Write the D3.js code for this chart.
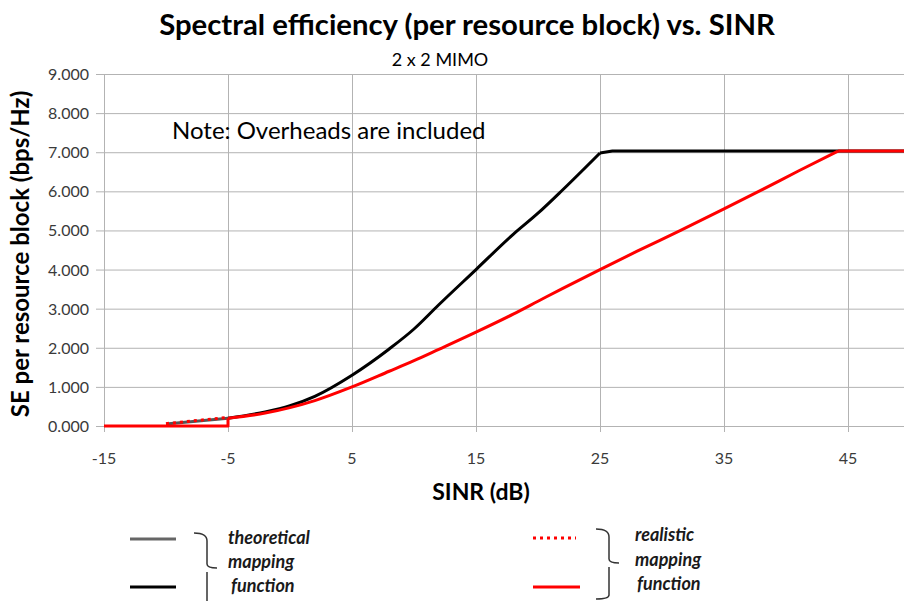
<!DOCTYPE html>
<html>
<head>
<meta charset="utf-8">
<script src="https://cdn.jsdelivr.net/npm/d3@7"></script>
<style>
  body { margin: 0; background: #fff; }
  svg { display: block; font-family: Lato, "Open Sans", sans-serif; }
</style>
</head>
<body>
<svg></svg>
<script>
// SINR (dB) and spectral efficiency
var theoGreyX = [-10, -5];
var theoGreyY = [0.05, 0.2];
var theoX = [-5, -2, 0, 2, 5, 8, 10, 12, 15, 18, 20, 22, 25];
var theoY = [0.2, 0.36, 0.52, 0.76, 1.3, 1.97, 2.48, 3.1, 4.0, 4.9, 5.44, 6.04, 6.98];
var theoFlatX = [25, 26, 50];
var theoFlatY = [6.98, 7.03, 7.03];
var realDotX = [-10, -5];
var realDotY = [0.06, 0.22];
var realStepX = [-15, -5, -5];
var realStepY = [0, 0, 0.2];
var realX = [-5, -2, 0, 2, 5, 8, 10, 12, 15, 18, 20, 22, 25, 28, 31.5, 35, 38, 41, 44.2];
var realY = [0.2, 0.33, 0.47, 0.65, 1.0, 1.4, 1.67, 1.96, 2.4, 2.86, 3.19, 3.52, 4.0, 4.47, 5.0, 5.55, 6.03, 6.52, 7.03];
var realFlatX = [44.2, 50];
var realFlatY = [7.03, 7.03];
var xTicks = [-15, -5, 5, 15, 25, 35, 45];
var yTicks = [0, 1, 2, 3, 4, 5, 6, 7, 8, 9];

var svgWidth = 904,
    svgHeight = 601;

var svg = d3.select('svg')
    .attr("width", svgWidth)
    .attr("height", svgHeight);

var xScale = d3.scaleLinear()
    .domain([-15, 50])
    .range([104, 910]);

var yScale = d3.scaleLinear()
    .domain([0, 9])
    .range([426, 74]);

// gridlines
svg.append("g").selectAll("line")
    .data(yTicks)
    .enter()
    .append("line")
    .attr("x1", 96).attr("x2", svgWidth)
    .attr("y1", function(d) { return yScale(d) + 0.5; })
    .attr("y2", function(d) { return yScale(d) + 0.5; })
    .attr("stroke", "#b3b3b3");

svg.append("g").selectAll("line")
    .data(xTicks)
    .enter()
    .append("line")
    .attr("x1", function(d) { return Math.round(xScale(d)) + 0.5; })
    .attr("x2", function(d) { return Math.round(xScale(d)) + 0.5; })
    .attr("y1", 74)
    .attr("y2", 432)
    .attr("stroke", "#b3b3b3");

// tick labels
svg.append("g").selectAll("text")
    .data(yTicks)
    .enter()
    .append("text")
    .attr("x", 89)
    .attr("y", function(d) { return yScale(d) + 6; })
    .attr("text-anchor", "end")
    .attr("font-size", 16)
    .attr("fill", "#3a3a3a")
    .text(d3.format(".3f"));

svg.append("g").selectAll("text")
    .data(xTicks)
    .enter()
    .append("text")
    .attr("x", function(d) { return xScale(d); })
    .attr("y", 464)
    .attr("text-anchor", "middle")
    .attr("font-size", 16)
    .attr("fill", "#3a3a3a")
    .text(function(d) { return d; });

// lines
var line = d3.line()
    .x(function(d) { return xScale(d[0]); })
    .y(function(d) { return yScale(d[1]); });

var smooth = d3.line()
    .curve(d3.curveMonotoneX)
    .x(function(d) { return xScale(d[0]); })
    .y(function(d) { return yScale(d[1]); });

function pts(xs, ys) {
    return xs.map(function(x, i) { return [x, ys[i]]; });
}

function draw(gen, xs, ys, color, dash) {
    svg.append("path")
        .attr("d", gen(pts(xs, ys)))
        .attr("fill", "none")
        .attr("stroke", color)
        .attr("stroke-width", 3)
        .attr("stroke-linejoin", "round")
        .attr("stroke-dasharray", dash || null);
}

draw(line, theoGreyX, theoGreyY, "#555");
draw(line, realDotX, realDotY, "#ff0000", "3,4");
draw(smooth, theoX, theoY, "#000");
draw(line, theoFlatX, theoFlatY, "#000");
draw(line, realStepX, realStepY, "#ff0000");
draw(smooth, realX, realY, "#ff0000");
draw(line, realFlatX, realFlatY, "#ff0000");

// titles
svg.append("text")
    .attr("x", 467).attr("y", 35)
    .attr("text-anchor", "middle")
    .attr("font-size", 29.3).attr("font-weight", "bold")
    .text("Spectral efficiency (per resource block) vs. SINR");

svg.append("text")
    .attr("x", 440).attr("y", 66)
    .attr("text-anchor", "middle")
    .attr("font-size", 18)
    .text("2 x 2 MIMO");

svg.append("text")
    .attr("x", 172).attr("y", 139)
    .attr("font-size", 24)
    .text("Note: Overheads are included");

svg.append("text")
    .attr("x", 481).attr("y", 500)
    .attr("text-anchor", "middle")
    .attr("font-size", 23).attr("font-weight", "bold")
    .text("SINR (dB)");

svg.append("text")
    .attr("transform", "translate(29,254) rotate(-90)")
    .attr("text-anchor", "middle")
    .attr("font-size", 24).attr("font-weight", "bold")
    .text("SE per resource block (bps/Hz)");

// legend
var legend = svg.append("g");
legend.append("line").attr("x1", 130).attr("x2", 176).attr("y1", 539).attr("y2", 539)
    .attr("stroke", "#666").attr("stroke-width", 3);
legend.append("line").attr("x1", 130).attr("x2", 176).attr("y1", 587).attr("y2", 587)
    .attr("stroke", "#000").attr("stroke-width", 3);
legend.append("line").attr("x1", 533).attr("x2", 576).attr("y1", 538).attr("y2", 538)
    .attr("stroke", "#ff0000").attr("stroke-width", 3).attr("stroke-dasharray", "3,4");
legend.append("line").attr("x1", 533).attr("x2", 580).attr("y1", 587).attr("y2", 587)
    .attr("stroke", "#ff0000").attr("stroke-width", 3);

function brace(x, top, mid, bottom) {
    legend.append("path")
        .attr("d", "M" + (x - 13) + "," + top + " Q" + x + "," + top + " " + x + "," + (top + 8) +
            " L" + x + "," + (mid - 4) + " Q" + x + "," + mid + " " + (x + 10) + "," + mid +
            " M" + x + "," + (mid + 4) + " L" + x + "," + bottom +
            (bottom < 600 ? " Q" + x + "," + (bottom + 4) + " " + (x - 13) + "," + (bottom + 4) : ""))
        .attr("fill", "none").attr("stroke", "#333").attr("stroke-width", 1.5);
}
brace(207, 533, 568, 603);
brace(609, 529, 563, 595);

var legText = [
    { x: 228, y: 544, t: "theoretical" },
    { x: 228, y: 568, t: "mapping" },
    { x: 231, y: 592, t: "function" },
    { x: 635, y: 541, t: "realistic" },
    { x: 635, y: 566, t: "mapping" },
    { x: 637, y: 590, t: "function" }
];
legend.selectAll("text")
    .data(legText)
    .enter()
    .append("text")
    .attr("x", function(d) { return d.x; })
    .attr("y", function(d) { return d.y; })
    .attr("font-size", 18).attr("font-weight", "bold").attr("font-style", "italic")
    .attr("fill", "#1a1a1a")
    .text(function(d) { return d.t; });
</script>
</body>
</html>
